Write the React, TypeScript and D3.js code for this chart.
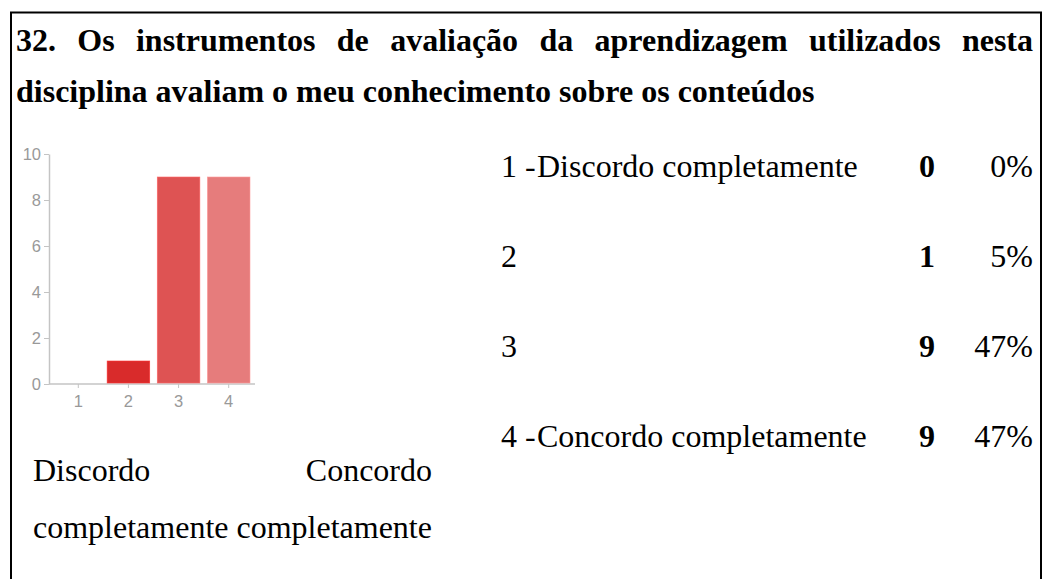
import React, { useEffect, useRef } from 'react';
import * as d3 from 'd3';

const categories = ['1', '2', '3', '4'];
const counts = [0, 1, 9, 9];
const barColors = ['#d62728', '#d92b2b', '#de5353', '#e67c7c'];
const yTicks = [0, 2, 4, 6, 8, 10];
const rowLabels = ['1 - Discordo completamente', '2', '3', '4 - Concordo completamente'];
const rowPercents = ['0%', '5%', '47%', '47%'];
const titleLines = [
  '32. Os instrumentos de avaliação da aprendizagem utilizados nesta',
  'disciplina avaliam o meu conhecimento sobre os conteúdos',
];

const W = 1045;
const H = 579;
const serif = '"Liberation Serif", "Times New Roman", serif';
const sans = 'Arial, "Liberation Sans", sans-serif';

const App = () => {
  const ref = useRef<SVGSVGElement>(null);

  useEffect(() => {
    document.body.style.margin = '0';
    const svg = d3.select(ref.current);
    svg.selectAll('*').remove();

    // frame
    svg.append('path')
      .attr('d', `M11,579 V12.5 H1041 V579`)
      .attr('fill', 'none')
      .attr('stroke', '#000')
      .attr('stroke-width', 2);

    // title, first line justified
    const left = 16;
    const right = 1033;
    const words = titleLines[0].split(' ');
    const wg = svg.append('g');
    const nodes = words.map((w) =>
      wg.append('text')
        .attr('y', 51)
        .attr('font-family', serif)
        .attr('font-weight', 'bold')
        .attr('font-size', 32)
        .text(w)
    );
    const widths = nodes.map((n) => (n.node() as SVGTextElement).getComputedTextLength());
    const gap = (right - left - d3.sum(widths)) / (words.length - 1);
    let cx = left;
    nodes.forEach((n, i) => {
      n.attr('x', cx);
      cx += widths[i] + gap;
    });
    svg.append('text')
      .attr('x', left)
      .attr('y', 102)
      .attr('font-family', serif)
      .attr('font-weight', 'bold')
      .attr('font-size', 32)
      .text(titleLines[1]);

    // bar chart
    const x = d3.scaleBand().domain(categories).range([54, 253]).paddingInner(0.15).paddingOuter(0.06);
    const y = d3.scaleLinear().domain([0, 10]).range([384, 154]);
    const axisColor = '#c4c4c4';
    const labelColor = '#999';

    const yAxis = svg.append('g')
      .attr('transform', 'translate(49,0)')
      .call(d3.axisLeft(y).tickValues(yTicks).tickSize(5).tickSizeOuter(0));
    yAxis.select('.domain').attr('stroke', axisColor).attr('stroke-width', 1.5);
    yAxis.selectAll('line').attr('stroke', axisColor);
    yAxis.selectAll('text')
      .attr('fill', labelColor)
      .attr('font-family', sans)
      .attr('font-size', 16.5)
      .attr('x', -8);

    const xAxis = svg.append('g')
      .attr('transform', 'translate(0,384)')
      .call(d3.axisBottom(x).tickSize(4).tickSizeOuter(0));
    xAxis.select('.domain').attr('stroke', axisColor).attr('stroke-width', 1.5).attr('d', 'M49,0H255');
    xAxis.selectAll('line').attr('stroke', axisColor);
    xAxis.selectAll('text')
      .attr('fill', labelColor)
      .attr('font-family', sans)
      .attr('font-size', 16.5)
      .attr('dy', null)
      .attr('y', 23);

    svg.append('g')
      .selectAll('rect')
      .data(counts)
      .enter()
      .append('rect')
      .attr('x', (d, i) => x(categories[i]) as number)
      .attr('y', (d) => y(d))
      .attr('width', x.bandwidth())
      .attr('height', (d) => y(0) - y(d) - 1)
      .attr('fill', (d, i) => barColors[i])
      .attr('stroke', (d, i) => d3.color(barColors[i])!.brighter(0.6).formatHex())
      .attr('stroke-width', 0.6)
      .attr('opacity', (d) => (d > 0 ? 1 : 0));

    // table of counts
    const rowY = d3.scalePoint().domain(rowLabels).range([177, 447]);
    const rows = svg.append('g').selectAll('g').data(rowLabels).enter().append('g')
      .attr('transform', (d) => `translate(0,${rowY(d)})`)
      .attr('font-family', serif)
      .attr('font-size', 32);
    rows.append('text').attr('x', 501).text((d) => (d.includes(' - ') ? d.split(' - ')[0] + ' -' : d));
    rows.append('text').attr('x', 537).text((d) => (d.includes(' - ') ? d.split(' - ')[1] : ''));
    rows.append('text').attr('x', 927).attr('text-anchor', 'middle').attr('font-weight', 'bold')
      .text((d, i) => String(counts[i]));
    rows.append('text').attr('x', 1033).attr('text-anchor', 'end').text((d, i) => rowPercents[i]);

    // scale anchors below chart
    const g = svg.append('g').attr('font-family', serif).attr('font-size', 32);
    g.append('text').attr('x', 33).attr('y', 481).text('Discordo');
    g.append('text').attr('x', 432).attr('y', 481).attr('text-anchor', 'end').text('Concordo');
    g.append('text').attr('x', 33).attr('y', 538).text('completamente completamente');
  }, []);

  return <svg ref={ref} width={W} height={H} style={{ display: 'block', background: '#fff' }} />;
};

export default App;
